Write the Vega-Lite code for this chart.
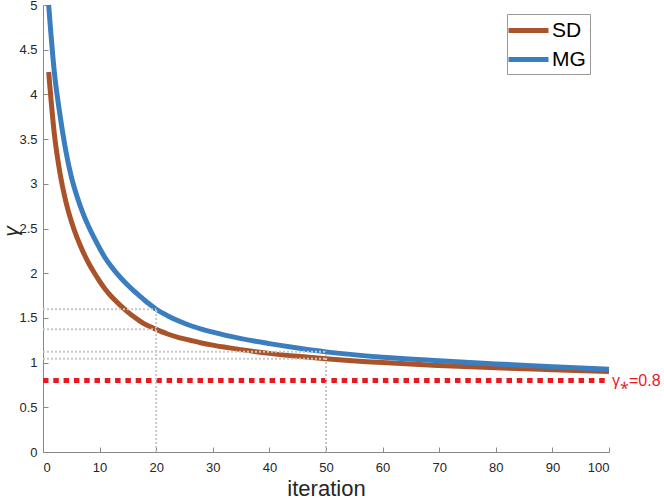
{
  "$schema": "https://vega.github.io/schema/vega-lite/v6.json",
  "width": 566,
  "height": 447,
  "autosize": {"type": "none"},
  "padding": {"left": 43, "top": 5, "right": 55, "bottom": 47},
  "datasets": {
    "curves": [
      {"iteration": 1, "gamma": 4.25, "method": "SD"},
      {"iteration": 2, "gamma": 3.56, "method": "SD"},
      {"iteration": 3, "gamma": 3.12, "method": "SD"},
      {"iteration": 4, "gamma": 2.81, "method": "SD"},
      {"iteration": 5, "gamma": 2.58, "method": "SD"},
      {"iteration": 6, "gamma": 2.4, "method": "SD"},
      {"iteration": 7, "gamma": 2.25, "method": "SD"},
      {"iteration": 8, "gamma": 2.12, "method": "SD"},
      {"iteration": 9, "gamma": 2.01, "method": "SD"},
      {"iteration": 10, "gamma": 1.91, "method": "SD"},
      {"iteration": 11, "gamma": 1.82, "method": "SD"},
      {"iteration": 12, "gamma": 1.745, "method": "SD"},
      {"iteration": 13, "gamma": 1.68, "method": "SD"},
      {"iteration": 14, "gamma": 1.62, "method": "SD"},
      {"iteration": 15, "gamma": 1.565, "method": "SD"},
      {"iteration": 16, "gamma": 1.515, "method": "SD"},
      {"iteration": 17, "gamma": 1.47, "method": "SD"},
      {"iteration": 18, "gamma": 1.43, "method": "SD"},
      {"iteration": 19, "gamma": 1.4, "method": "SD"},
      {"iteration": 20, "gamma": 1.372, "method": "SD"},
      {"iteration": 22, "gamma": 1.32, "method": "SD"},
      {"iteration": 24, "gamma": 1.28, "method": "SD"},
      {"iteration": 26, "gamma": 1.25, "method": "SD"},
      {"iteration": 28, "gamma": 1.22, "method": "SD"},
      {"iteration": 30, "gamma": 1.195, "method": "SD"},
      {"iteration": 35, "gamma": 1.145, "method": "SD"},
      {"iteration": 40, "gamma": 1.103, "method": "SD"},
      {"iteration": 45, "gamma": 1.07, "method": "SD"},
      {"iteration": 50, "gamma": 1.043, "method": "SD"},
      {"iteration": 60, "gamma": 1.0, "method": "SD"},
      {"iteration": 70, "gamma": 0.968, "method": "SD"},
      {"iteration": 80, "gamma": 0.942, "method": "SD"},
      {"iteration": 90, "gamma": 0.92, "method": "SD"},
      {"iteration": 100, "gamma": 0.9, "method": "SD"},
      {"iteration": 1, "gamma": 5.0, "method": "MG"},
      {"iteration": 2, "gamma": 4.25, "method": "MG"},
      {"iteration": 3, "gamma": 3.77, "method": "MG"},
      {"iteration": 4, "gamma": 3.38, "method": "MG"},
      {"iteration": 5, "gamma": 3.08, "method": "MG"},
      {"iteration": 6, "gamma": 2.86, "method": "MG"},
      {"iteration": 7, "gamma": 2.68, "method": "MG"},
      {"iteration": 8, "gamma": 2.53, "method": "MG"},
      {"iteration": 9, "gamma": 2.4, "method": "MG"},
      {"iteration": 10, "gamma": 2.28, "method": "MG"},
      {"iteration": 11, "gamma": 2.17, "method": "MG"},
      {"iteration": 12, "gamma": 2.08, "method": "MG"},
      {"iteration": 13, "gamma": 2.0, "method": "MG"},
      {"iteration": 14, "gamma": 1.93, "method": "MG"},
      {"iteration": 15, "gamma": 1.865, "method": "MG"},
      {"iteration": 16, "gamma": 1.805, "method": "MG"},
      {"iteration": 17, "gamma": 1.75, "method": "MG"},
      {"iteration": 18, "gamma": 1.695, "method": "MG"},
      {"iteration": 19, "gamma": 1.645, "method": "MG"},
      {"iteration": 20, "gamma": 1.596, "method": "MG"},
      {"iteration": 22, "gamma": 1.525, "method": "MG"},
      {"iteration": 24, "gamma": 1.465, "method": "MG"},
      {"iteration": 26, "gamma": 1.415, "method": "MG"},
      {"iteration": 28, "gamma": 1.375, "method": "MG"},
      {"iteration": 30, "gamma": 1.34, "method": "MG"},
      {"iteration": 35, "gamma": 1.268, "method": "MG"},
      {"iteration": 40, "gamma": 1.212, "method": "MG"},
      {"iteration": 45, "gamma": 1.163, "method": "MG"},
      {"iteration": 50, "gamma": 1.12, "method": "MG"},
      {"iteration": 60, "gamma": 1.06, "method": "MG"},
      {"iteration": 70, "gamma": 1.02, "method": "MG"},
      {"iteration": 80, "gamma": 0.985, "method": "MG"},
      {"iteration": 90, "gamma": 0.955, "method": "MG"},
      {"iteration": 100, "gamma": 0.925, "method": "MG"}
    ],
    "guides": [
      {"x": 0, "x2": 20, "y": 1.596, "y2": 1.596},
      {"x": 0, "x2": 20, "y": 1.372, "y2": 1.372},
      {"x": 20, "x2": 20, "y": 0, "y2": 1.596},
      {"x": 0, "x2": 50, "y": 1.12, "y2": 1.12},
      {"x": 0, "x2": 50, "y": 1.043, "y2": 1.043},
      {"x": 50, "x2": 50, "y": 0, "y2": 1.12}
    ],
    "target": [
      {"iteration": 0, "gamma": 0.8, "label": ""},
      {"iteration": 100, "gamma": 0.8, "label": "γ⁎=0.8"}
    ]
  },
  "layer": [
    {
      "data": {"name": "target"},
      "mark": {"type": "line", "color": "#e8191f", "strokeWidth": 5, "strokeDash": [5.5, 4.8], "strokeCap": "butt"},
      "encoding": {
        "x": {"field": "iteration", "type": "quantitative"},
        "y": {"field": "gamma", "type": "quantitative"}
      }
    },
    {
      "data": {"name": "curves"},
      "mark": {"type": "line", "strokeWidth": 5, "interpolate": "monotone"},
      "encoding": {
        "x": {
          "field": "iteration",
          "type": "quantitative",
          "title": "iteration",
          "scale": {"domain": [0, 100], "nice": false},
          "axis": {"values": [0, 10, 20, 30, 40, 50, 60, 70, 80, 90, 100], "labelPadding": 14, "titlePadding": 4}
        },
        "y": {
          "field": "gamma",
          "type": "quantitative",
          "title": "γ",
          "scale": {"domain": [0, 5], "nice": false},
          "axis": {"values": [0, 0.5, 1, 1.5, 2, 2.5, 3, 3.5, 4, 4.5, 5], "format": "~g", "titleAngle": -90, "labelPadding": 11, "titleX": -43, "titleY": 226, "titleBaseline": "top", "titleFontStyle": "italic", "titleFontSize": 21}
        },
        "color": {
          "field": "method",
          "type": "nominal",
          "scale": {"domain": ["SD", "MG"], "range": ["#a9532b", "#3a7ebf"]},
          "legend": {"title": null}
        }
      }
    },
    {
      "data": {"name": "guides"},
      "mark": {"type": "rule", "color": "#c8c8c8", "strokeWidth": 2, "strokeDash": [2, 2]},
      "encoding": {
        "x": {"field": "x", "type": "quantitative"},
        "x2": {"field": "x2"},
        "y": {"field": "y", "type": "quantitative"},
        "y2": {"field": "y2"}
      }
    },
    {
      "data": {"name": "target"},
      "mark": {"type": "text", "align": "left", "baseline": "middle", "dx": 3, "dy": 1, "fontSize": 16, "color": "#e8191f", "font": "Liberation Sans"},
      "encoding": {
        "x": {"field": "iteration", "type": "quantitative"},
        "y": {"field": "gamma", "type": "quantitative"},
        "text": {"field": "label"}
      }
    }
  ],
  "config": {
    "view": {"stroke": null},
    "font": "Liberation Sans",
    "axis": {
      "grid": false,
      "domainColor": "#888888",
      "tickColor": "#888888",
      "tickSize": -5,
      "labelFontSize": 13,
      "labelColor": "#262626",
      "labelFont": "Liberation Sans",
      "titleFont": "Liberation Sans",
      "titleFontSize": 22,
      "titleFontWeight": "normal",
      "titleColor": "#262626"
    },
    "legend": {
      "orient": "none",
      "legendX": 464,
      "legendY": 9,
      "strokeColor": "#999999",
      "fillColor": "white",
      "padding": 4,
      "symbolType": "M-2,0H2",
      "symbolSize": 400,
      "symbolOffset": 5,
      "symbolStrokeWidth": 5,
      "labelOffset": 11,
      "labelFontSize": 21,
      "labelColor": "#000000",
      "labelFont": "Liberation Sans",
      "rowPadding": 6
    }
  }
}
